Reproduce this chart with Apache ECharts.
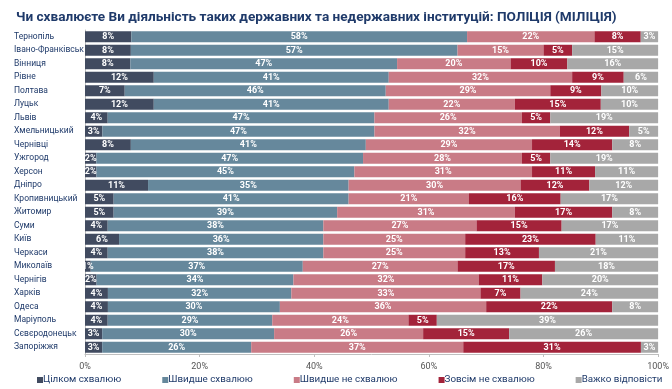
<!DOCTYPE html>
<html><head><meta charset="utf-8">
<script src="https://cdn.jsdelivr.net/npm/echarts@6/dist/echarts.min.js"></script>
<style>html,body{margin:0;padding:0;background:#fff}#c{width:672px;height:389px}</style>
</head><body><div id="c"></div>
<script>
const cities = ['Тернопіль','Івано-Франківськ','Вінниця','Рівне','Полтава','Луцьк','Львів','Хмельницький','Чернівці','Ужгород','Херсон','Дніпро','Кропивницький','Житомир','Суми','Київ','Черкаси','Миколаїв','Чернігів','Харків','Одеса','Маріуполь','Сєвєродонецьк','Запоріжжя'];
const seriesNames = ['Цілком схвалюю','Швидше схвалюю','Швидше не схвалюю','Зовсім не схвалюю','Важко відповісти'];
const fullyApprove   = [8,8,8,12,7,12,4,3,8,2,2,11,5,5,4,6,4,1,2,4,4,4,3,3];
const ratherApprove  = [58,57,47,41,46,41,47,47,41,47,45,35,41,39,38,36,38,37,34,32,30,29,30,26];
const ratherNot      = [22,15,20,32,29,22,26,32,29,28,31,30,21,31,27,25,25,27,32,33,36,24,26,37];
const notAtAll       = [8,5,10,9,9,15,5,12,14,5,11,12,16,17,15,23,13,17,11,7,22,5,15,31];
const hardToSay      = [3,15,16,6,10,10,19,5,8,19,11,12,17,8,17,11,21,18,20,24,8,39,26,3];
const xTicks = ['0%','20%','40%','60%','80%','100%'];
const colors = ['#414b60','#66889c','#c97b86','#a3233a','#a8a8a8'];
const FONT = 'Roboto';

const raw = [fullyApprove, ratherApprove, ratherNot, notAtAll, hardToSay];
const sums = cities.map((c,i)=>raw.reduce((s,a)=>s+a[i],0));
const series = raw.map((arr,k)=>({
  name: seriesNames[k], type:'bar', stack:'all', barWidth: 11,
  itemStyle:{color:colors[k]},
  label:{show:true, position:'inside', color:'#fff', fontSize:9, fontWeight:'bold', fontFamily:FONT,
    formatter: p => raw[k][p.dataIndex] + '%'},
  data: arr.map((v,i)=>v/sums[i]*100)
}));

const chart = echarts.init(document.getElementById('c'));
chart.setOption({
  animation:false,
  title:{text:'Чи схвалюєте Ви діяльність таких державних та недержавних інституцій: ПОЛІЦІЯ (МІЛІЦІЯ)',
    left:11, top:6, textStyle:{fontFamily:FONT, fontSize:13.6, fontWeight:'bold', color:'#1f3a6a'}},
  color: colors,
  legend:{bottom:4, left:37, width:660, padding:0, itemWidth:6, itemHeight:6, itemGap:41, icon:'rect',
    textStyle:{fontFamily:FONT, fontSize:9.8, color:'#1f3a6a', padding:[0,0,0,-5]},
    data: seriesNames},
  grid:{left:85, right:12, top:30, bottom:35},
  xAxis:{type:'value', min:0, max:100, interval:20,
    axisLine:{show:true, lineStyle:{color:'#bfbfbf'}},
    axisTick:{show:true, length:3, lineStyle:{color:'#bfbfbf'}},
    splitLine:{show:false},
    axisLabel:{fontFamily:FONT, fontSize:9, color:'#555', formatter:(v)=>xTicks[v/20]}},
  yAxis:{type:'category', inverse:true, data:cities,
    axisLine:{show:true, lineStyle:{color:'#bfbfbf'}}, axisTick:{show:false},
    axisLabel:{align:'left', margin:71, fontFamily:FONT, fontSize:8.5, color:'#1f3a6a'}},
  series: series
});
</script></body></html>
